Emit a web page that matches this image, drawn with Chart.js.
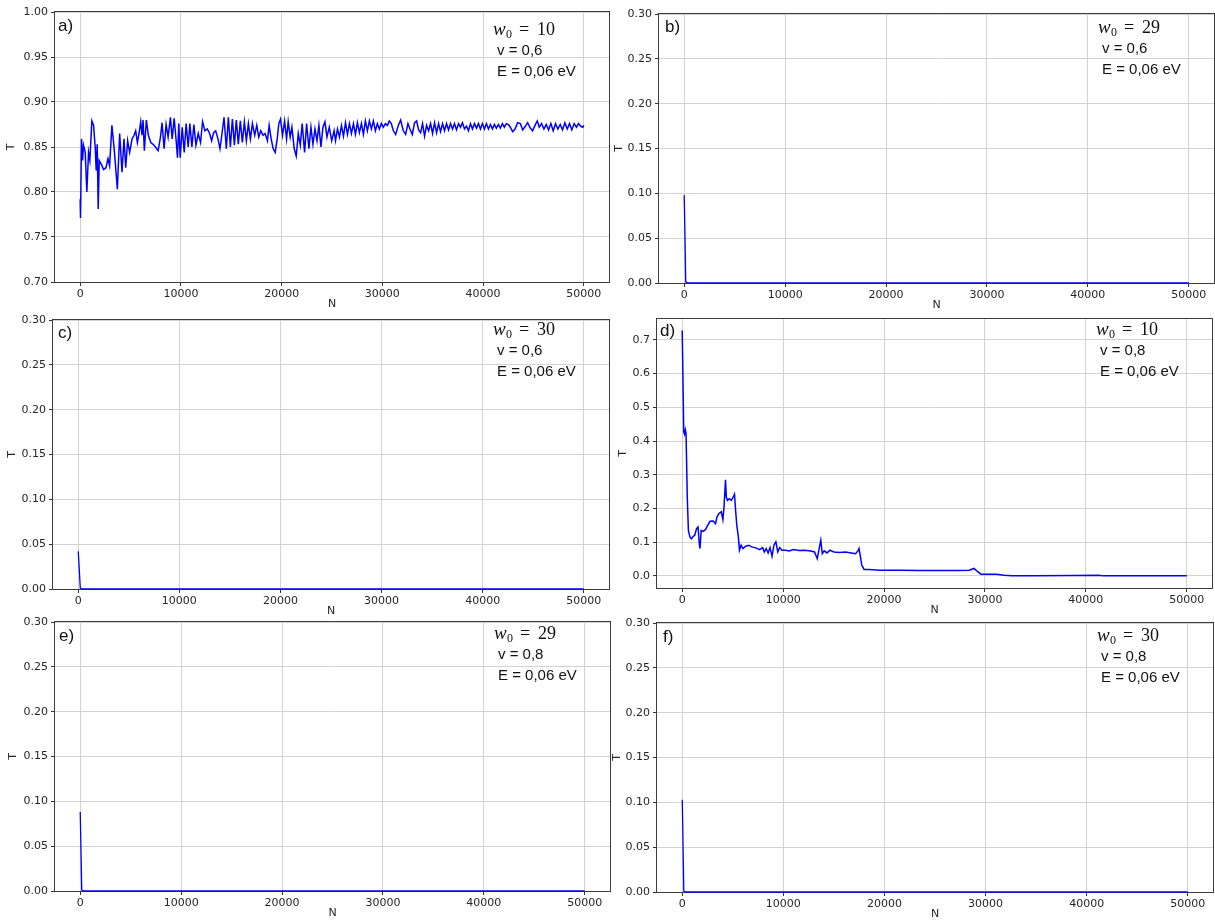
<!DOCTYPE html>
<html><head><meta charset="utf-8">
<script src="https://cdn.jsdelivr.net/npm/chart.js@4/dist/chart.umd.min.js"></script>
<style>
html,body{margin:0;padding:0;background:#fff;overflow:hidden;width:1215px;height:920px;position:relative}
canvas{position:absolute}
</style></head><body>
<script>
// ---------- DATA ----------
const xTicks = [0, 10000, 20000, 30000, 40000, 50000];
const yTicksA = [0.70, 0.75, 0.80, 0.85, 0.90, 0.95, 1.00];
const yTicksSmall = [0.00, 0.05, 0.10, 0.15, 0.20, 0.25, 0.30];
const yTicksD = [0.0, 0.1, 0.2, 0.3, 0.4, 0.5, 0.6, 0.7];

const panelLabels = ['a)', 'b)', 'c)', 'd)', 'e)', 'f)'];
const w0Values = ['10', '29', '30', '10', '29', '30'];
const vValues = ['0,6', '0,6', '0,6', '0,8', '0,8', '0,8'];
const energyText = 'E = 0,06 eV';
const xTitle = 'N';
const yTitle = 'T';

// panel a) w0=10, v=0,6
const nA = [0,33,130,230,330,500,660,830,960,1160,1330,1490,1590,1690,1790,1890,2090,2320,2560,2760,2920,3150,3390,3690,3920,4150,4350,4520,4710,4910,5150,5350,5510,5680,5840,6010,6140,6240,6370,6570,6770,7010,7240,7470,7740,7970,8130,8330,8530,8730,8960,9130,9330,9530,9660,9790,9930,10130,10330,10520,10720,10890,11090,11290,11490,11720,11950,12150,12380,12620,12850,13050,13250,13450,13680,13880,14080,14280,14510,14710,14910,15110,15310,15500,15700,15900,16100,16300,16500,16700,16900,17100,17330,17530,17730,17930,18160,18360,18590,18760,18960,19160,19360,19560,19720,19890,20090,20290,20490,20650,20850,21020,21250,21450,21650,21850,22040,22280,22480,22710,22910,23110,23310,23510,23700,23900,24100,24300,24500,24730,24970,25210,25350,25545,25740,25940,26140,26340,26535,26730,26930,27130,27325,27525,27720,27920,28120,28315,28515,28710,28910,29110,29305,29505,29700,29900,30100,30300,30500,30690,30890,31090,31320,31585,31815,32080,32310,32540,32740,32970,33200,33400,33600,33800,33990,34190,34390,34590,34785,34985,35180,35380,35580,35775,35975,36170,36370,36570,36765,36965,37160,37360,37560,37755,37950,38150,38350,38550,38745,38945,39140,39340,39540,39735,39935,40130,40330,40530,40725,40925,41120,41320,41520,41715,41915,42110,42310,42510,42705,42935,43170,43430,43700,43930,44190,44420,44685,44915,45150,45380,45575,45805,46040,46270,46500,46730,46960,47195,47425,47655,47885,48120,48350,48580,48810,49040,49270,49470,49700,49900,50000];
const tA = [0.792,0.771,0.859,0.835,0.852,0.844,0.800,0.844,0.835,0.879,0.874,0.850,0.824,0.853,0.781,0.835,0.831,0.825,0.827,0.837,0.829,0.874,0.846,0.803,0.865,0.822,0.859,0.827,0.857,0.844,0.859,0.863,0.868,0.855,0.865,0.878,0.863,0.880,0.846,0.880,0.863,0.855,0.853,0.850,0.846,0.861,0.877,0.848,0.875,0.861,0.883,0.859,0.882,0.857,0.838,0.876,0.838,0.872,0.844,0.876,0.850,0.876,0.850,0.875,0.852,0.865,0.855,0.878,0.868,0.870,0.865,0.857,0.866,0.868,0.859,0.848,0.865,0.883,0.848,0.883,0.850,0.881,0.852,0.880,0.853,0.879,0.855,0.878,0.857,0.876,0.859,0.876,0.863,0.874,0.861,0.868,0.863,0.865,0.857,0.874,0.859,0.848,0.844,0.859,0.876,0.881,0.863,0.879,0.859,0.878,0.861,0.872,0.848,0.840,0.865,0.852,0.876,0.844,0.876,0.848,0.872,0.853,0.870,0.857,0.874,0.850,0.872,0.878,0.861,0.872,0.857,0.868,0.857,0.870,0.861,0.874,0.862,0.877,0.864,0.876,0.865,0.876,0.864,0.877,0.866,0.876,0.864,0.879,0.868,0.879,0.870,0.879,0.868,0.876,0.870,0.876,0.872,0.876,0.874,0.879,0.876,0.868,0.864,0.874,0.880,0.868,0.864,0.876,0.870,0.864,0.877,0.879,0.869,0.866,0.876,0.862,0.874,0.868,0.876,0.865,0.877,0.866,0.876,0.867,0.876,0.868,0.876,0.869,0.876,0.870,0.876,0.869,0.876,0.872,0.877,0.870,0.873,0.868,0.876,0.870,0.876,0.871,0.876,0.870,0.876,0.870,0.876,0.870,0.875,0.870,0.875,0.871,0.875,0.871,0.876,0.872,0.876,0.875,0.872,0.867,0.870,0.877,0.876,0.869,0.873,0.877,0.871,0.868,0.874,0.879,0.872,0.876,0.870,0.875,0.869,0.876,0.868,0.876,0.870,0.875,0.869,0.877,0.870,0.876,0.869,0.876,0.872,0.876,0.873,0.872,0.874];

// panel b) w0=29, v=0,6
const nB = [0, 150, 400, 50000];
const tB = [0.098, 0.001, 0.0, 0.0];
// panel c) w0=30, v=0,6
const nC = [0, 200, 400, 50000];
const tC = [0.042, 0.001, 0.0, 0.0];
// panel d) w0=10, v=0,8
const nD = [0,150,230,310,380,500,610,770,920,1070,1230,1420,1570,1690,1760,1880,2070,2300,2530,2760,3070,3300,3450,3640,3870,4030,4140,4290,4370,4490,4680,4870,5060,5180,5290,5410,5560,5670,5830,6020,6290,6590,6900,7280,7670,7970,8130,8320,8510,8700,8900,9090,9280,9470,9660,9890,10240,10620,11000,11580,12150,12730,13110,13380,13570,13730,13880,14070,14340,14650,15030,15600,16180,16750,17180,17410,17520,17640,17790,18020,18480,19630,21550,23460,25380,27300,28450,28910,29220,29600,30170,31130,31900,32670,34970,38800,41290,41680,44550,50000];
const tD = [0.728,0.427,0.420,0.433,0.422,0.234,0.135,0.115,0.110,0.117,0.120,0.140,0.145,0.096,0.081,0.135,0.132,0.137,0.150,0.162,0.163,0.155,0.175,0.185,0.190,0.167,0.204,0.285,0.234,0.224,0.229,0.224,0.234,0.242,0.194,0.150,0.116,0.076,0.091,0.081,0.088,0.091,0.086,0.083,0.078,0.084,0.071,0.081,0.068,0.084,0.058,0.091,0.101,0.071,0.084,0.076,0.076,0.074,0.078,0.075,0.076,0.074,0.071,0.051,0.081,0.106,0.066,0.074,0.068,0.076,0.071,0.069,0.071,0.068,0.066,0.074,0.081,0.061,0.032,0.019,0.019,0.017,0.017,0.016,0.016,0.016,0.017,0.022,0.014,0.005,0.005,0.005,0.002,0.000,0.000,0.001,0.002,0.000,0.000,0.000];
// panel e) w0=29, v=0,8
const nE = [0, 150, 400, 50000];
const tE = [0.088, 0.001, 0.0, 0.0];
// panel f) w0=30, v=0,8
const nF = [0, 150, 400, 50000];
const tF = [0.103, 0.001, 0.0, 0.0];

// ---------- LAYOUT ----------
const seriesN = [nA, nB, nC, nD, nE, nF];
const seriesT = [tA, tB, tC, tD, tE, tF];
const yTickSets = [yTicksA, yTicksSmall, yTicksSmall, yTicksD, yTicksSmall, yTicksSmall];
const yRanges = [[0.70, 1.00], [0, 0.30], [0, 0.30], [-0.036, 0.762], [0, 0.30], [0, 0.30]];
const yDecimals = [2, 2, 2, 1, 2, 2];
const geo = [
  {L:55, T:12, R:609, B:282, ty:18, lx:3, ly:14, tp:10},
  {L:659, T:14, R:1214, B:283, ty:14, lx:6, ly:13, tp:14},
  {L:53, T:320, R:609, B:589, ty:10, lx:5, ly:13, tp:13},
  {L:657, T:319, R:1212, B:588, ty:11, lx:3, ly:12, tp:20},
  {L:55, T:622, R:610, B:891, ty:12, lx:4, ly:14, tp:12},
  {L:657, T:623, R:1213, B:892, ty:13, lx:6, ly:14, tp:14}
];

const framePlugin = {
  id: 'frame',
  beforeDatasetsDraw(chart) {
    const a = chart.chartArea, c = chart.ctx;
    c.save();
    c.strokeStyle = '#3c3c3c';
    c.lineWidth = 1;
    c.strokeRect(Math.round(a.left) - 0.5, Math.round(a.top) - 0.5, Math.round(a.right - a.left) + 1, Math.round(a.bottom - a.top) + 1);
    c.restore();
  },
  afterDraw(chart) {
    const o = chart.options.plugins.frame;
    const a = chart.chartArea, c = chart.ctx;
    c.save();
    c.fillStyle = '#111';
    c.textBaseline = 'middle';
    c.textAlign = 'left';
    c.font = '17px "Liberation Sans", Arial, sans-serif';
    c.fillText(o.label, a.left + o.lx, a.top + o.ly);
    const x0 = a.right - 116, y0 = a.top + o.ty;
    c.font = 'italic 19px "Liberation Serif", serif';
    c.fillText('w', x0, y0);
    c.font = '12px "Liberation Serif", serif';
    c.fillText('0', x0 + 13, y0 + 5);
    c.font = '18px "Liberation Serif", serif';
    c.fillText('=', x0 + 26, y0);
    c.fillText(o.w, x0 + 44, y0);
    c.font = '15px "Liberation Sans", Arial, sans-serif';
    c.fillText('v = ' + o.v, x0 + 4, y0 + 21);
    c.fillText(energyText, x0 + 4, y0 + 42);
    c.restore();
  }
};

const tickFont = {family: 'DejaVu Sans', size: 11};
const tickColor = '#262626';

function makeChart(i) {
  const g = geo[i];
  const W = g.R - g.L + 60 + 20, H = g.B - g.T + 12 + 29;
  const cv = document.createElement('canvas');
  cv.width = W; cv.height = H;
  cv.style.left = (g.L - 60) + 'px';
  cv.style.top = (g.T - 12) + 'px';
  cv.style.width = W + 'px';
  cv.style.height = H + 'px';
  document.body.appendChild(cv);
  const xs = seriesN[i], ys = seriesT[i];
  const yt = yTickSets[i];
  const dec = yDecimals[i];
  new Chart(cv, {
    type: 'line',
    data: {
      datasets: [{
        data: xs.map((x, j) => ({x: x, y: ys[j]})),
        borderColor: '#0000ff',
        borderWidth: i === 0 || i === 3 ? 1.5 : 1.3,
        pointRadius: 0,
        tension: 0,
        fill: false,
        clip: false
      }]
    },
    options: {
      responsive: false,
      animation: false,
      devicePixelRatio: 1,
      layout: {padding: {left: 0, top: 12, right: 20, bottom: 0}},
      plugins: {
        legend: {display: false},
        tooltip: {enabled: false},
        frame: {label: panelLabels[i], w: w0Values[i], v: vValues[i], ty: g.ty, lx: g.lx, ly: g.ly}
      },
      scales: {
        x: {
          type: 'linear', min: -2500, max: 52500,
          afterBuildTicks: s => { s.ticks = xTicks.map(v => ({value: v})); },
          afterFit: s => { s.height = 29; },
          ticks: {font: tickFont, color: tickColor, padding: 2, maxRotation: 0, autoSkip: false, callback: v => String(v)},
          grid: {color: '#d2d2d2', lineWidth: 1, tickLength: 4, tickColor: '#333', drawTicks: true},
          border: {display: false},
          title: {display: true, text: xTitle, font: tickFont, color: tickColor, padding: 0}
        },
        y: {
          type: 'linear', min: yRanges[i][0], max: yRanges[i][1],
          afterBuildTicks: s => { s.ticks = yt.map(v => ({value: v})); },
          afterFit: s => { s.width = 60; },
          ticks: {font: tickFont, color: tickColor, padding: 3, autoSkip: false, callback: v => Number(v).toFixed(dec)},
          grid: {color: '#d2d2d2', lineWidth: 1, tickLength: 4, tickColor: '#333', drawTicks: true},
          border: {display: false},
          title: {display: true, text: yTitle, font: tickFont, color: tickColor, padding: {top: g.tp, bottom: 0}}
        }
      }
    },
    plugins: [framePlugin]
  });
}
for (let i = 0; i < 6; i++) makeChart(i);
</script>
</body></html>
